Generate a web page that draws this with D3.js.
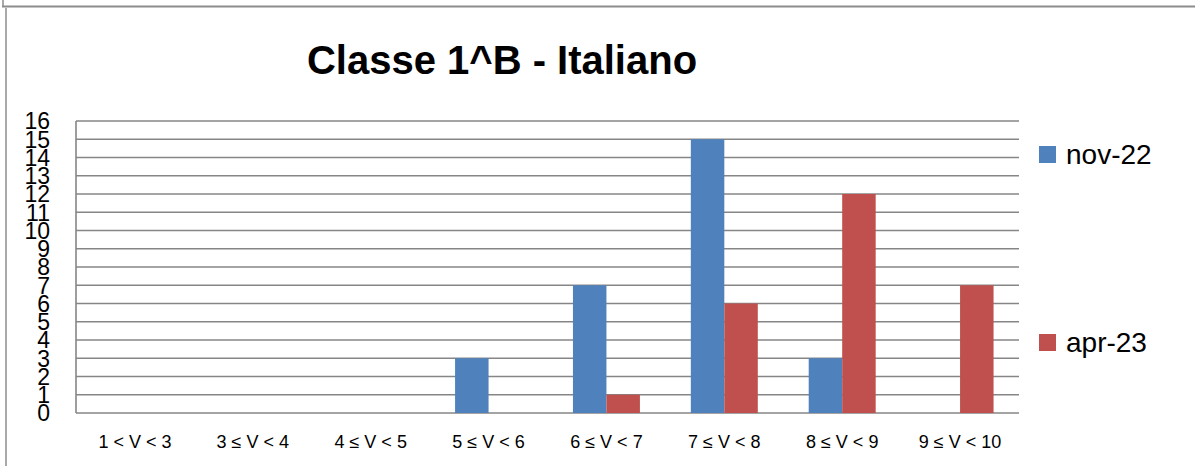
<!DOCTYPE html>
<html>
<head>
<meta charset="utf-8">
<script src="https://cdn.jsdelivr.net/npm/d3@7"></script>
<style>
  html, body { margin: 0; padding: 0; background: #fff; }
  svg { display: block; font-family: "Liberation Sans", Arial, sans-serif; }
</style>
</head>
<body>
<svg id="chart" width="1195" height="466"></svg>
<script>
'use strict';

const categories = ['1 < V < 3', '3 ≤ V < 4', '4 ≤ V < 5', '5 ≤ V < 6',
    '6 ≤ V < 7', '7 ≤ V < 8', '8 ≤ V < 9', '9 ≤ V < 10'];
const seriesNames = ['nov-22', 'apr-23'];
const nov22 = [0, 0, 0, 3, 7, 15, 3, 0];
const apr23 = [0, 0, 0, 0, 1, 6, 12, 7];
const yTicks = d3.range(0, 17);
const colors = ['#4F81BD', '#C0504D'];

(function () {
    const svg = d3.select('#chart');
    const values = [nov22, apr23];
    const plot = { left: 76, right: 1019, top: 121, bottom: 413 };

    // frame of the chart area (partly cut off)
    svg.append('line')
        .attr('x1', 2).attr('y1', 6.5).attr('x2', 1195).attr('y2', 6.5)
        .attr('stroke', '#8c8c8c').attr('stroke-width', 2);
    svg.append('line')
        .attr('x1', 3).attr('y1', 0).attr('x2', 3).attr('y2', 6)
        .attr('stroke', '#8c8c8c').attr('stroke-width', 1.5);
    svg.append('line')
        .attr('x1', 6).attr('y1', 8).attr('x2', 6).attr('y2', 466)
        .attr('stroke', '#8c8c8c').attr('stroke-width', 1.5);

    const x0 = d3.scaleBand()
        .domain(categories)
        .range([plot.left, plot.right]);

    const x1 = d3.scaleBand()
        .domain(seriesNames)
        .range([0, x0.bandwidth()])
        .paddingOuter(0.76);

    const y = d3.scaleLinear()
        .domain([0, 16])
        .range([plot.bottom, plot.top]);

    // gridlines
    svg.append('g')
        .selectAll('line')
        .data(yTicks)
        .enter().append('line')
        .attr('x1', plot.left)
        .attr('x2', plot.right)
        .attr('y1', d => y(d))
        .attr('y2', d => y(d))
        .attr('stroke', '#868686')
        .attr('stroke-width', 1.6);

    // left axis line
    svg.append('line')
        .attr('x1', plot.left).attr('x2', plot.left)
        .attr('y1', plot.top).attr('y2', plot.bottom)
        .attr('stroke', '#868686')
        .attr('stroke-width', 1.6);

    // bars
    const groups = svg.append('g')
        .selectAll('g')
        .data(categories)
        .enter().append('g')
        .attr('transform', d => 'translate(' + x0(d) + ',0)');

    groups.selectAll('rect')
        .data((d, i) => seriesNames.map((s, k) => ({ s: s, k: k, v: values[k][i] })))
        .enter().append('rect')
        .filter(d => d.v > 0)
        .attr('x', d => x1(d.s))
        .attr('width', x1.bandwidth())
        .attr('y', d => y(d.v))
        .attr('height', d => y(0) - y(d.v))
        .attr('fill', d => colors[d.k]);

    // y labels (crowded, as in the original)
    svg.append('g')
        .selectAll('text')
        .data(yTicks)
        .enter().append('text')
        .attr('x', 50)
        .attr('y', d => y(d))
        .attr('dy', '0.36em')
        .attr('text-anchor', 'end')
        .attr('font-size', '23px')
        .attr('fill', '#000')
        .text(d => d);

    // x labels
    svg.append('g')
        .selectAll('text')
        .data(categories)
        .enter().append('text')
        .attr('x', d => x0(d) + x0.bandwidth() / 2)
        .attr('y', 448)
        .attr('text-anchor', 'middle')
        .attr('font-size', '18px')
        .attr('fill', '#000')
        .text(d => d);

    // title
    svg.append('text')
        .attr('x', 502)
        .attr('y', 74)
        .attr('text-anchor', 'middle')
        .attr('font-size', '40px')
        .attr('font-weight', 'bold')
        .attr('fill', '#000')
        .text('Classe 1^B - Italiano');

    // legend
    const legendY = [146, 334];
    const legend = svg.append('g')
        .selectAll('g')
        .data(seriesNames)
        .enter().append('g')
        .attr('transform', (d, i) => 'translate(1039,' + legendY[i] + ')');
    legend.append('rect')
        .attr('width', 17)
        .attr('height', 17)
        .attr('fill', (d, i) => colors[i]);
    legend.append('text')
        .attr('x', 27)
        .attr('y', 18)
        .attr('font-size', '28px')
        .attr('fill', '#000')
        .text(d => d);
}());
</script>
</body>
</html>
